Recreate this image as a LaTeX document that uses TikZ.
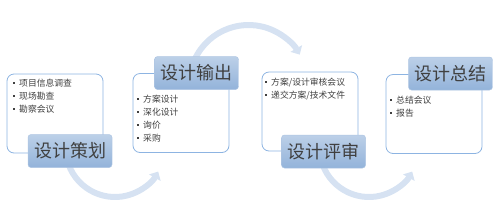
\documentclass[tikz,border=0pt]{standalone}
\usepackage{fontspec}
\setmainfont{Noto Sans CJK SC}
\usetikzlibrary{arrows.meta}
\definecolor{arcblue}{HTML}{D6E2F2}
\definecolor{boxline}{HTML}{8DB4E2}
\definecolor{ttop}{HTML}{BCD0E8}
\definecolor{tbot}{HTML}{93B3DA}
\definecolor{tline}{HTML}{AFC6E3}
\definecolor{txt}{HTML}{404040}
\newcommand{\itm}[1]{\makebox[7pt][l]{\hspace{0.5pt}\rule[2.6pt]{1.9pt}{1.9pt}}#1}
\tikzset{
  panel/.style={draw=boxline, line width=0.8pt, rounded corners=7pt, fill=white,
    minimum width=96pt, minimum height=79pt, inner sep=0pt},
  title/.style={draw=tline, line width=0.5pt, rounded corners=3pt, top color=ttop, bottom color=tbot,
    minimum width=84pt, minimum height=33pt, inner sep=0pt, text=txt, font=\fontsize{18pt}{20pt}\selectfont},
  items/.style={anchor=north west, inner sep=0pt, align=left, text=txt,
    font=\fontsize{8.8pt}{13pt}\selectfont},
  flow/.style={draw=arcblue, line width=6pt, -{Triangle[width=13pt,length=7pt]}}
}
\begin{document}
\begin{tikzpicture}[x=1pt,y=1pt]
\useasboundingbox (0,0) rectangle (500,-210);
% flow arcs
\draw[flow] ([shift={(155:59.2)}]248.5,-84.2) arc (155:30:59.2);
\draw[flow] ([shift={(200:49.4)}]115,-147.6) arc (200:331:49.4);
\draw[flow] ([shift={(200:49.4)}]369,-147.6) arc (200:331:49.4);
% panels
\node[panel] (p1) at (55,-113.5) {};
\node[panel] (p2) at (181,-113) {};
\node[panel] (p3) at (310,-111.5) {};
\node[panel] (p4) at (434,-114) {};
% item lists
\node[items] (l1) at (12,-78.5) {\itm{项目信息调查}\\\itm{现场勘查}\\\itm{勘察会议}};
\node[items] (l2) at (136,-94.5) {\itm{方案设计}\\\itm{深化设计}\\\itm{询价}\\\itm{采购}};
\node[items] (l3) at (264,-77.5) {\itm{方案/设计审核会议}\\\itm{递交方案/技术文件}};
\node[items] (l4) at (389,-95.5) {\itm{总结会议}\\\itm{报告}};
% titles
\node[title] (t1) at (70,-151) {设计策划};
\node[title] (t2) at (196.5,-73) {设计输出};
\node[title] (t3) at (323.5,-151.5) {设计评审};
\node[title] (t4) at (450.5,-73.5) {设计总结};
\end{tikzpicture}
\end{document}
